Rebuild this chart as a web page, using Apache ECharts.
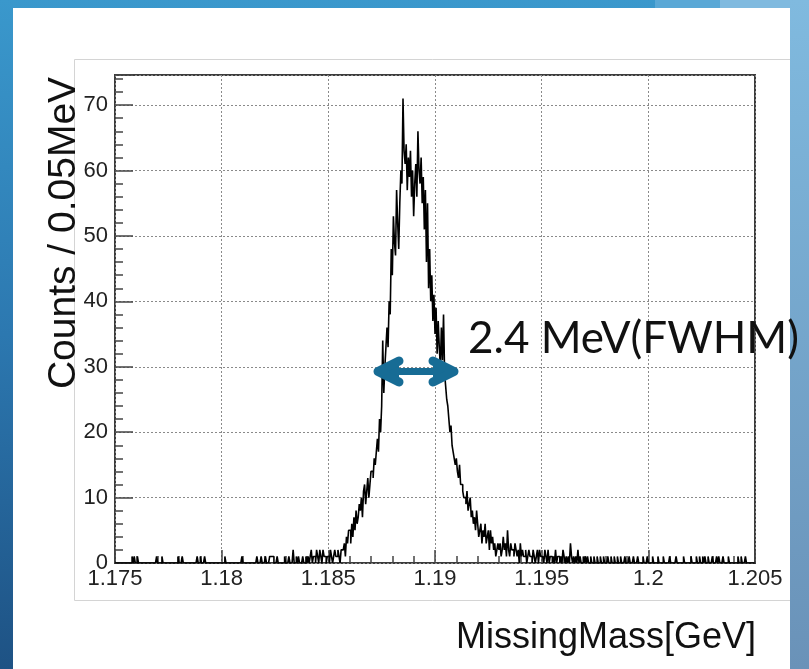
<!DOCTYPE html>
<html><head><meta charset="utf-8">
<script src="https://cdn.jsdelivr.net/npm/echarts@6/dist/echarts.min.js"></script>
<style>html,body{margin:0;padding:0;background:#3a95c9;}#c{width:809px;height:669px;}</style>
</head><body><div id="c"></div>
<script>
// ---- data ----
const xTickLabels = ['1.175','1.18','1.185','1.19','1.195','1.2','1.205'];
const yTickLabels = ['0','10','20','30','40','50','60','70'];
const histRange = [1.175, 1.205];   // GeV
const binTotal = 600;               // 0.05 MeV bins
const yMax = 74.6;
// sparse low-mass tail: [bin, count]
const leftTail = [[16,1],[18,1],[21,1],[39,1],[44,1],[59,1],[63,1],[77,1],[80,1],[84,1],[103,1],[119,1],[133,1],[137,1],[141,1],[145,1],[146,1],[147,1],[148,1],[152,1],[159,1],[163,1],[167,2],[170,1],[172,1],[176,1],[179,1],[181,1],[183,1],[184,2],[186,1],[187,1],[189,2],[190,1],[192,2],[193,1],[195,2],[196,1],[197,1],[199,1]];
// peak region counts, bins 200..400
const coreStart = 200;
const coreCounts = [
 1,0,2,1,0,1,2,1,1,2,1,0,2,2,
 2,3,1,4,3,5,5,3,6,4,7,5,8,6,7,9,8,10,7,11,12,9,11,13,10,12,
 14,14,13,16,15,17,19,17,22,20,24,34,26,30,33,36,33,40,38,48,44,53,49,47,57,52,48,55,60,58,
 71,63,61,64,57,62,59,63,56,60,53,58,61,56,66,60,58,62,55,59,51,57,46,55,42,48,40,44,37,41,
 35,39,32,37,33,30,36,31,38,29,27,25,24,22,20,21,18,17,16,15,16,14,13,15,12,12,11,10,10,9,11,
 8,9,10,7,8,6,7,5,8,6,4,5,6,3,5,4,6,3,4,5,2,5,3,4,2,3,1,2,3,2,
 3,1,2,4,2,3,1,5,2,1,3,2,2,1,3,2,1,2,0,3,1,2,1,1,2,0,1,2,1,1,0,2,1,0,1,2,0,2,1,1
];
// sparse high-mass tail: [bin, count]
const rightTail = [[401,1],[403,2],[404,1],[406,2],[408,1],[409,1],[411,1],[413,2],[415,1],[416,1],[418,1],[420,2],[421,1],[423,1],[425,1],[427,3],[428,1],[430,1],[432,1],[434,2],[436,1],[439,1],[441,1],[443,1],[446,1],[449,1],[452,1],[455,1],[458,1],[462,1],[465,1],[468,1],[471,1],[474,1],[478,1],[482,1],[486,1],[490,1],[495,1],[499,1],[504,1],[509,1],[514,1],[520,1],[526,1],[533,1],[540,1],[545,1],[548,1],[551,1],[553,1],[556,1],[560,1],[564,1],[566,1],[570,1],[575,1],[584,1],[587,1],[591,1]];
const xTitle = 'MissingMass[GeV]';
const yTitle = 'Counts / 0.05MeV';
const note = '2.4 MeV(FWHM)';

// ---- build histogram ----
const counts = new Array(binTotal).fill(0);
leftTail.forEach(([i,c]) => counts[i] = c);
coreCounts.forEach((c,k) => counts[coreStart + k] = c);
rightTail.forEach(([i,c]) => counts[i] = c);
const bw = (histRange[1] - histRange[0]) / binTotal;
const histData = [[histRange[0], counts[0]]];
counts.forEach((c,i) => histData.push([histRange[0] + (i + 0.5) * bw, c]));
histData.push([histRange[1], counts[binTotal - 1]]);
const xMin = parseFloat(xTickLabels[0]), xMax = parseFloat(xTickLabels[xTickLabels.length-1]);
const xStep = parseFloat(xTickLabels[1]) - xMin;

const chart = echarts.init(document.getElementById('c'), null, {renderer:'canvas'});
const axisFont = "'Liberation Sans', Arial, sans-serif";
chart.setOption({
  animation: false,
  grid: {left:115, right:54, top:75, bottom:106, show:true, borderColor:'#3c3c3c', borderWidth:2},
  xAxis: {
    type:'value', min:xMin, max:xMax, interval:xStep, z:3,
    axisLine:{show:false},
    axisTick:{show:true, inside:true, length:13, lineStyle:{color:'#444', width:1.5}},
    minorTick:{show:true, splitNumber:5, length:7, lineStyle:{color:'#444', width:1.5}},
    splitLine:{show:true, lineStyle:{color:'#8a8a8a', type:[2,2], width:1}},
    axisLabel:{margin:5, fontSize:22, color:'#222', fontFamily:axisFont,
      formatter:(v)=>{const s=String(+(+v).toFixed(3)); return xTickLabels.includes(s)?s:'';}}
  },
  yAxis: {
    type:'value', min:0, max:yMax, interval:10, z:3,
    axisLine:{show:false},
    axisTick:{show:true, inside:true, length:18, lineStyle:{color:'#444', width:1.5}},
    minorTick:{show:true, splitNumber:5, length:8, lineStyle:{color:'#444', width:1.5}},
    splitLine:{show:true, lineStyle:{color:'#8a8a8a', type:[2,2], width:1}},
    axisLabel:{margin:7, fontSize:22, color:'#222', fontFamily:axisFont, showMaxLabel:false,
      formatter:(v)=>{const s=String(Math.round(v)); return yTickLabels.includes(s)&&Math.abs(v-Math.round(v))<1e-6?s:'';}}
  },
  series: [{
    type:'line', step:'middle', data:histData, showSymbol:false, symbol:'none',
    lineStyle:{color:'#000', width:1.6}, z:5, silent:true
  }],
  graphic: [
    {type:'rect', z:-10, shape:{x:0,y:0,width:809,height:669},
      style:{fill:new echarts.graphic.LinearGradient(0,0,0,1,[{offset:0,color:'#3a98cc'},{offset:0.5,color:'#2c78b0'},{offset:1,color:'#1e5284'}])}},
    {type:'rect', z:-9, shape:{x:655,y:0,width:154,height:8}, style:{fill:'#5aa8d6'}},
    {type:'rect', z:-9, shape:{x:720,y:0,width:89,height:8}, style:{fill:'#80badf'}},
    {type:'rect', z:-9, shape:{x:790,y:0,width:19,height:669},
      style:{fill:new echarts.graphic.LinearGradient(0,0,0,1,[{offset:0,color:'#80badf'},{offset:1,color:'#6a92b8'}])}},
    {type:'rect', z:-8, shape:{x:13,y:8,width:777,height:661}, style:{fill:'#ffffff'}},
    {type:'polyline', z:-7, shape:{points:[[790,59.5],[74.5,59.5],[74.5,600.5],[790,600.5]]}, style:{stroke:'#d4d4d4', lineWidth:1, fill:null}},
    {type:'text', z:50, x:64, y:233, rotation:Math.PI/2,
      style:{text:yTitle, fontSize:39, fontFamily:axisFont, fill:'#111', align:'center', verticalAlign:'middle'}},
    {type:'text', z:50, x:756, y:638,
      style:{text:xTitle, fontSize:36, fontFamily:axisFont, fill:'#111', align:'right', verticalAlign:'middle'}},
    {type:'text', z:50, x:468, y:339,
      style:{text:note, fontSize:44, fontFamily:"Lato, 'Open Sans', sans-serif", fill:'#111', align:'left', verticalAlign:'middle'}},
    {type:'line', z:60, shape:{x1:381,y1:371.5,x2:451,y2:371.5}, style:{stroke:'#176c95', lineWidth:7}},
    {type:'polyline', z:60, shape:{points:[[399,361],[378,371.5],[399,382]]}, style:{stroke:'#176c95', lineWidth:9, lineCap:'round', lineJoin:'round', fill:'#176c95'}},
    {type:'polyline', z:60, shape:{points:[[433,361],[454,371.5],[433,382]]}, style:{stroke:'#176c95', lineWidth:9, lineCap:'round', lineJoin:'round', fill:'#176c95'}}
  ]
});
</script>
</body></html>
